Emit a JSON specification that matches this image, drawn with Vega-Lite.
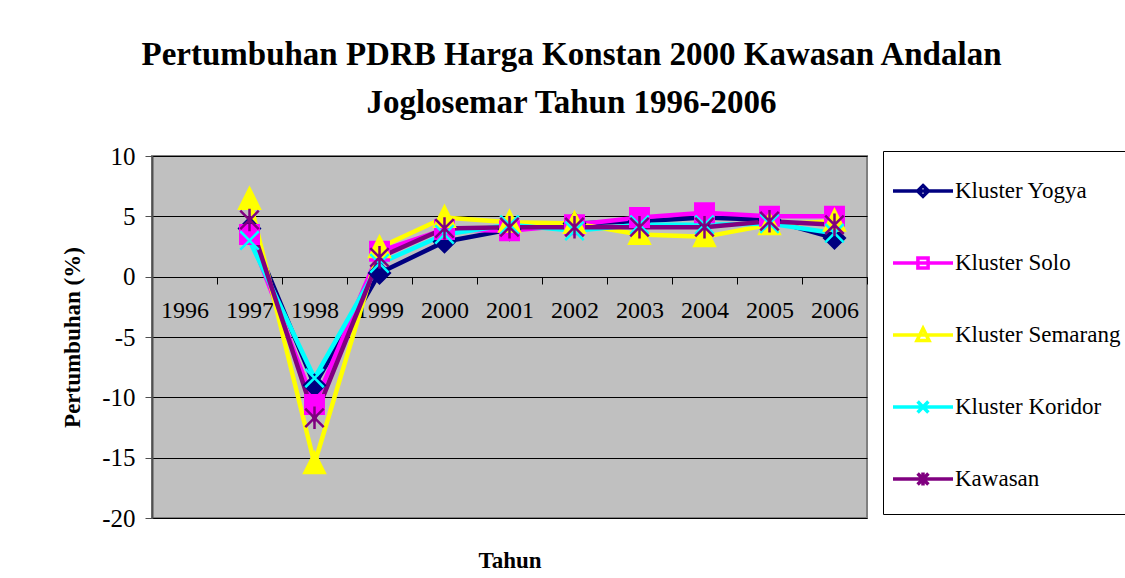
{
  "$schema": "https://vega.github.io/schema/vega-lite/v6.json",
  "width": 715,
  "height": 362,
  "autosize": {"type": "none"},
  "padding": {"left": 152, "top": 156, "right": 258, "bottom": 60},
  "background": "white",
  "title": {
    "text": ["Pertumbuhan PDRB Harga Konstan 2000 Kawasan Andalan", "Joglosemar Tahun 1996-2006"],
    "anchor": "middle",
    "frame": "group",
    "dx": 62,
    "offset": 24,
    "font": "Liberation Serif",
    "fontSize": 33,
    "fontWeight": "bold",
    "color": "black",
    "lineHeight": 48
  },
  "data": {
    "values": [
      {"year": "1997", "series": "Kluster Yogya", "value": 4.0},
      {"year": "1998", "series": "Kluster Yogya", "value": -9.0},
      {"year": "1999", "series": "Kluster Yogya", "value": 0.3},
      {"year": "2000", "series": "Kluster Yogya", "value": 2.9},
      {"year": "2001", "series": "Kluster Yogya", "value": 3.9},
      {"year": "2002", "series": "Kluster Yogya", "value": 4.4},
      {"year": "2003", "series": "Kluster Yogya", "value": 4.6},
      {"year": "2004", "series": "Kluster Yogya", "value": 4.9},
      {"year": "2005", "series": "Kluster Yogya", "value": 4.7},
      {"year": "2006", "series": "Kluster Yogya", "value": 3.2},
      {"year": "1997", "series": "Kluster Solo", "value": 3.5},
      {"year": "1998", "series": "Kluster Solo", "value": -10.6},
      {"year": "1999", "series": "Kluster Solo", "value": 2.1},
      {"year": "2000", "series": "Kluster Solo", "value": 3.9},
      {"year": "2001", "series": "Kluster Solo", "value": 3.8},
      {"year": "2002", "series": "Kluster Solo", "value": 4.3},
      {"year": "2003", "series": "Kluster Solo", "value": 4.9},
      {"year": "2004", "series": "Kluster Solo", "value": 5.3},
      {"year": "2005", "series": "Kluster Solo", "value": 5.0},
      {"year": "2006", "series": "Kluster Solo", "value": 5.0},
      {"year": "1997", "series": "Kluster Semarang", "value": 6.4},
      {"year": "1998", "series": "Kluster Semarang", "value": -15.5},
      {"year": "1999", "series": "Kluster Semarang", "value": 2.4},
      {"year": "2000", "series": "Kluster Semarang", "value": 4.9},
      {"year": "2001", "series": "Kluster Semarang", "value": 4.5},
      {"year": "2002", "series": "Kluster Semarang", "value": 4.4},
      {"year": "2003", "series": "Kluster Semarang", "value": 3.5},
      {"year": "2004", "series": "Kluster Semarang", "value": 3.3},
      {"year": "2005", "series": "Kluster Semarang", "value": 4.3},
      {"year": "2006", "series": "Kluster Semarang", "value": 4.6},
      {"year": "1997", "series": "Kluster Koridor", "value": 3.0},
      {"year": "1998", "series": "Kluster Koridor", "value": -8.4},
      {"year": "1999", "series": "Kluster Koridor", "value": 1.1},
      {"year": "2000", "series": "Kluster Koridor", "value": 3.5},
      {"year": "2001", "series": "Kluster Koridor", "value": 4.3},
      {"year": "2002", "series": "Kluster Koridor", "value": 3.8},
      {"year": "2003", "series": "Kluster Koridor", "value": 4.3},
      {"year": "2004", "series": "Kluster Koridor", "value": 4.3},
      {"year": "2005", "series": "Kluster Koridor", "value": 4.4},
      {"year": "2006", "series": "Kluster Koridor", "value": 3.6},
      {"year": "1997", "series": "Kawasan", "value": 4.7},
      {"year": "1998", "series": "Kawasan", "value": -11.7},
      {"year": "1999", "series": "Kawasan", "value": 1.6},
      {"year": "2000", "series": "Kawasan", "value": 4.0},
      {"year": "2001", "series": "Kawasan", "value": 4.1},
      {"year": "2002", "series": "Kawasan", "value": 4.1},
      {"year": "2003", "series": "Kawasan", "value": 4.1},
      {"year": "2004", "series": "Kawasan", "value": 4.1},
      {"year": "2005", "series": "Kawasan", "value": 4.6},
      {"year": "2006", "series": "Kawasan", "value": 4.3}
    ]
  },
  "encoding": {
    "x": {
      "field": "year",
      "type": "ordinal",
      "scale": {"type": "band", "domain": ["1996","1997","1998","1999","2000","2001","2002","2003","2004","2005","2006"], "paddingInner": 0, "paddingOuter": 0},
      "axis": {
        "title": "Tahun",
        "labelAngle": 0,
        "offset": -241,
        "tickBand": "extent",
        "tickSize": 7,
        "tickColor": "black",
        "domainColor": "black",
        "domainWidth": 1,
        "labelPadding": 14,
        "labelFont": "Liberation Serif",
        "labelFontSize": 24,
        "labelColor": "black",
        "titleFont": "Liberation Serif",
        "titleFontSize": 23,
        "titleFontWeight": "bold",
        "titleColor": "black",
        "titlePadding": 227,
        "grid": false
      }
    },
    "y": {
      "field": "value",
      "type": "quantitative",
      "scale": {"domain": [-20, 10], "nice": false, "zero": false},
      "axis": {
        "title": "Pertumbuhan (%)",
        "values": [-20, -15, -10, -5, 0, 5, 10],
        "labelExpr": "'' + datum.value",
        "grid": true,
        "gridColor": "black",
        "gridWidth": 1,
        "domainColor": "#505050",
        "domainWidth": 2,
        "tickColor": "#505050",
        "tickSize": 7,
        "labelPadding": 10,
        "labelFont": "Liberation Serif",
        "labelFontSize": 25,
        "labelColor": "black",
        "titleFont": "Liberation Serif",
        "titleFontSize": 23,
        "titleFontWeight": "bold",
        "titleColor": "black",
        "titlePadding": 17
      }
    }
  },
  "layer": [
    {
      "mark": {"type": "line", "strokeWidth": 4.5, "strokeJoin": "miter"},
      "encoding": {
        "color": {
          "field": "series",
          "type": "nominal",
          "scale": {
            "domain": ["Kluster Yogya", "Kluster Solo", "Kluster Semarang", "Kluster Koridor", "Kawasan"],
            "range": ["#000080", "#FF00FF", "#FFFF00", "#00FFFF", "#800080"]
          },
          "legend": null
        }
      }
    },
    {
      "mark": {"type": "point", "filled": true, "opacity": 1, "size": 420, "strokeWidth": 2.5},
      "encoding": {
        "color": {
          "field": "series",
          "type": "nominal",
          "scale": {
            "domain": ["Kluster Yogya", "Kluster Solo", "Kluster Semarang", "Kluster Koridor", "Kawasan"],
            "range": ["#000080", "#FF00FF", "#FFFF00", "#00FFFF", "#800080"]
          },
          "legend": null
        },
        "shape": {
          "field": "series",
          "type": "nominal",
          "scale": {
            "domain": ["Kluster Yogya", "Kluster Solo", "Kluster Semarang", "Kluster Koridor", "Kawasan"],
            "range": ["M0,-1L1,0L0,1L-1,0Z", "M-0.9,-0.9L0.9,-0.9L0.9,0.9L-0.9,0.9Z", "M0,-1.1L1,0.9L-1,0.9Z", "M-0.9,-0.9L0.9,0.9M-0.9,0.9L0.9,-0.9", "M-0.9,-0.9L0.9,0.9M-0.9,0.9L0.9,-0.9M0,-1.1L0,1.1"]
          },
          "legend": null
        },
        "stroke": {
          "field": "series",
          "type": "nominal",
          "scale": {
            "domain": ["Kluster Yogya", "Kluster Solo", "Kluster Semarang", "Kluster Koridor", "Kawasan"],
            "range": ["#000080", "#FF00FF", "#FFFF00", "#00FFFF", "#800080"]
          },
          "legend": null
        }
      }
    },
    {
      "mark": {"type": "point", "filled": true, "opacity": 0, "size": 100, "strokeWidth": 3.5},
      "encoding": {
        "fill": {
          "field": "series",
          "type": "nominal",
          "scale": {
            "domain": ["Kluster Yogya", "Kluster Solo", "Kluster Semarang", "Kluster Koridor", "Kawasan"],
            "range": ["#000080", "#FF00FF", "#FFFF00", "#00FFFF", "#800080"]
          },
          "legend": {
            "title": null,
            "orient": "none",
            "legendX": 731,
            "legendY": -5,
            "fillColor": "white",
            "strokeColor": "black",
            "padding": 8,
            "rowPadding": 13,
            "symbolSize": 3600,
            "symbolStrokeWidth": 3.5,
            "symbolOpacity": 1,
            "labelOffset": 0,
            "labelFont": "Liberation Serif",
            "labelFontSize": 23,
            "labelColor": "black",
            "labelLimit": 300
          }
        },
        "stroke": {
          "field": "series",
          "type": "nominal",
          "scale": {
            "domain": ["Kluster Yogya", "Kluster Solo", "Kluster Semarang", "Kluster Koridor", "Kawasan"],
            "range": ["#000080", "#FF00FF", "#FFFF00", "#00FFFF", "#800080"]
          },
          "legend": {"title": null}
        },
        "shape": {
          "field": "series",
          "type": "nominal",
          "scale": {
            "domain": ["Kluster Yogya", "Kluster Solo", "Kluster Semarang", "Kluster Koridor", "Kawasan"],
            "range": [
              "M0,-0.65M0,0.65M-1,0L1,0M0,-0.18L0.18,0L0,0.18L-0.18,0Z",
              "M0,-0.65M0,0.65M-1,0L1,0M-0.17,-0.17L0.17,-0.17L0.17,0.17L-0.17,0.17Z",
              "M0,-0.65M0,0.65M-1,0L1,0M0,-0.22L0.2,0.18L-0.2,0.18Z",
              "M0,-0.65M0,0.65M-1,0L1,0M-0.18,-0.18L0.18,0.18M-0.18,0.18L0.18,-0.18",
              "M0,-0.65M0,0.65M-1,0L1,0M-0.18,-0.18L0.18,0.18M-0.18,0.18L0.18,-0.18M0,-0.22L0,0.22"
            ]
          },
          "legend": {"title": null}
        }
      }
    }
  ],
  "resolve": {"scale": {"color": "independent", "shape": "independent", "stroke": "independent", "fill": "independent"}},
  "config": {
    "view": {"fill": "#C0C0C0", "stroke": "#808080", "strokeWidth": 2},
    "font": "Liberation Serif"
  }
}
